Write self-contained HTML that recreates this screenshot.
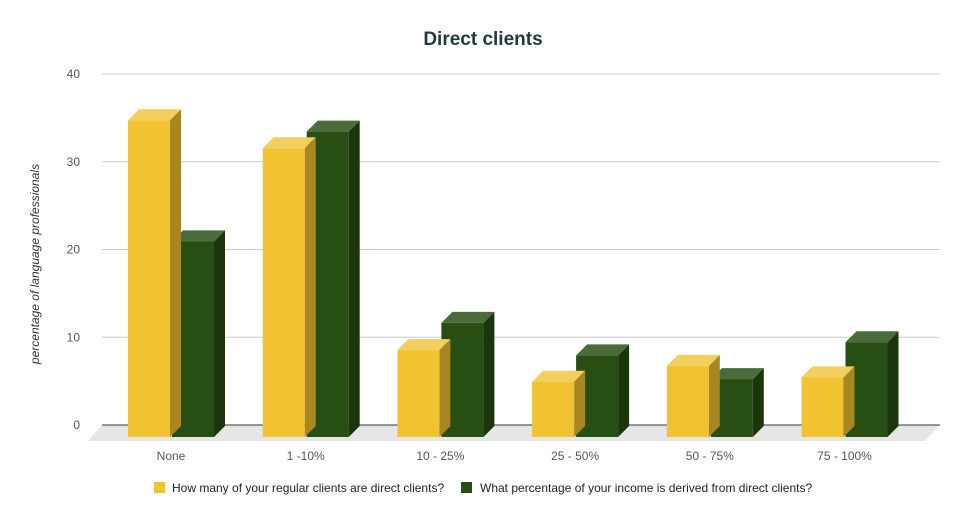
<!DOCTYPE html>
<html><head><meta charset="utf-8"><style>
body{margin:0;background:#fff;font-family:"Liberation Sans",Arial,sans-serif}
svg text{font-family:"Liberation Sans",Arial,sans-serif}
</style></head><body>
<svg id="chart" width="967" height="521" xmlns="http://www.w3.org/2000/svg">
<rect width="967" height="521" fill="#fff"/>
<text x="483" y="45" text-anchor="middle" font-size="19" font-weight="bold" fill="#1f3a3d">Direct clients</text>
<text transform="translate(39,264) rotate(-90)" text-anchor="middle" font-size="12" font-style="italic" fill="#333">percentage of language professionals</text>
<g id="grid"></g>
<polygon points="102,425 940,425 925,441 88,441" fill="#e6e6e6"/>
<line x1="102" y1="425" x2="940" y2="425" stroke="#333" stroke-width="1"/>
<g id="bars"></g>
<g id="xlabels"></g>
<g>
<rect x="154" y="482" width="11" height="11" fill="#F1C232"/>
<text x="172" y="492" font-size="12" fill="#222">How many of your regular clients are direct clients?</text>
<rect x="461" y="482" width="11" height="11" fill="#274E13"/>
<text x="480" y="492" font-size="12" fill="#222">What percentage of your income is derived from direct clients?</text>
</g>
</svg>
<script>
const categories = ["None","1 -10%","10 - 25%","25 - 50%","50 - 75%","75 - 100%"];
const regularClients = [36.1,32.9,9.9,6.3,8.1,6.8];
const incomeShare = [22.3,34.8,13.0,9.3,6.6,10.8];
const yTicks = [0,10,20,30,40];
const NS="http://www.w3.org/2000/svg";
const yAxis = v => 425 - v*8.775;
const frontBase = 437;
const barH = v => v*8.775;
const groupX = i => 128 + i*134.7;
const D = 11;
function mk(tag, attrs, parent){const e=document.createElementNS(NS,tag);for(const k in attrs)e.setAttribute(k,attrs[k]);parent.appendChild(e);return e;}
const grid=document.getElementById('grid');
yTicks.forEach(t=>{
  const y=yAxis(t);
  if(t>0){const l=mk('line',{x1:102,x2:940,y1:y,y2:y,stroke:'#ccc','stroke-width':1},grid);
  
  }
  const tx=mk('text',{x:80,y:y+4,'text-anchor':'end','font-size':12,fill:'#555'},grid);
  tx.textContent=t;
  
  
});
const bars=document.getElementById('bars');
function bar(x,v,cols,name){
  const g=mk('g',{},bars);
  
  
  const w=42, top=frontBase-barH(v);
  mk('polygon',{points:`${x+w},${top} ${x+w+D},${top-D} ${x+w+D},${frontBase-D} ${x+w},${frontBase}`,fill:cols[2]},g);
  mk('polygon',{points:`${x},${top} ${x+D},${top-D} ${x+w+D},${top-D} ${x+w},${top}`,fill:cols[1]},g);
  mk('rect',{x:x,y:top,width:w,height:barH(v),fill:cols[0]},g);
}
const yc=["#F1C232","#F3CF5E","#A88722"], gc=["#274E13","#4A6B3A","#1B360D"];
const xl=document.getElementById('xlabels');
categories.forEach((c,i)=>{
  const x=groupX(i);
  bar(x+44,incomeShare[i],gc,'bar-income-'+i);
  bar(x,regularClients[i],yc,'bar-regular-'+i);
  const t=mk('text',{x:x+43,y:460,'text-anchor':'middle','font-size':12,fill:'#555'},xl);
  t.textContent=c;
  
  
});
</script>
</body></html>
